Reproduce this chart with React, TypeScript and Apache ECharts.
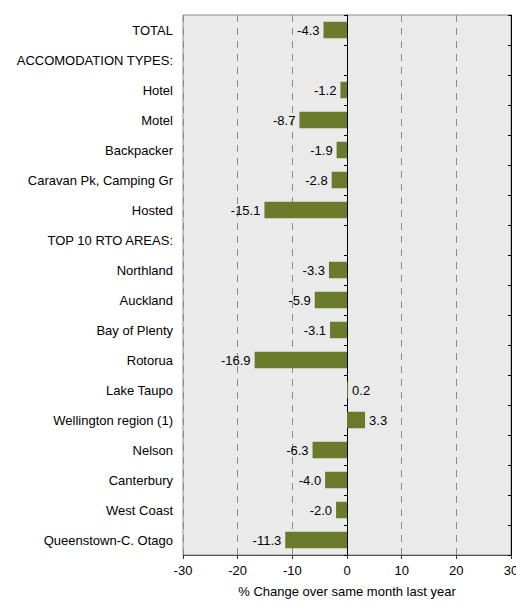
import React, { useEffect, useRef } from "react";
import * as echarts from "echarts";

const categories = [
  "TOTAL",
  "ACCOMODATION TYPES:",
  "Hotel",
  "Motel",
  "Backpacker",
  "Caravan Pk, Camping Gr",
  "Hosted",
  "TOP 10 RTO AREAS:",
  "Northland",
  "Auckland",
  "Bay of Plenty",
  "Rotorua",
  "Lake Taupo",
  "Wellington region (1)",
  "Nelson",
  "Canterbury",
  "West Coast",
  "Queenstown-C. Otago",
];

const values: (number | null)[] = [
  -4.3, null, -1.2, -8.7, -1.9, -2.8, -15.1, null, -3.3, -5.9, -3.1, -16.9, 0.2, 3.3, -6.3, -4.0, -2.0, -11.3,
];

const xTicks = { min: -30, max: 30, interval: 10 };
const xAxisTitle = "% Change over same month last year";

const FONT = "'Liberation Sans', Arial, sans-serif";

export default function App() {
  const ref = useRef<HTMLDivElement>(null);
  useEffect(() => {
    if (!ref.current) return;
    const chart = echarts.init(ref.current, undefined, { renderer: "svg" });
    const data = values.map((v) =>
      v == null
        ? null
        : { value: v, label: { position: v < 0 ? "left" : "right" } }
    );
    const catAxisBase = {
      type: "category",
      data: categories,
      inverse: true,
      gridIndex: 0,
    };
    chart.setOption({
      animation: false,
      textStyle: { fontFamily: FONT },
      grid: {
        left: 183,
        right: 5,
        top: 15,
        bottom: 51,
        outerBoundsMode: "none",
        containLabel: false,
        show: true,
        backgroundColor: "#eaeaea",
        borderColor: "#8c8c8c",
        borderWidth: 1,
      },
      xAxis: {
        type: "value",
        min: xTicks.min,
        max: xTicks.max,
        interval: xTicks.interval,
        name: xAxisTitle,
        nameLocation: "middle",
        nameGap: 30,
        nameTextStyle: { fontSize: 13, color: "#000", fontFamily: FONT },
        axisLine: { show: true, onZero: false, lineStyle: { color: "#555", width: 1 } },
        axisTick: { show: true, length: 4, lineStyle: { color: "#333" } },
        axisLabel: { fontSize: 13, color: "#000", margin: 9, fontFamily: FONT },
        splitLine: {
          show: true,
          lineStyle: { color: "#8c8c8c", type: [7, 6], width: 1 },
        },
      },
      yAxis: [
        {
          ...catAxisBase,
          position: "left",
          axisLine: { show: false, onZero: false },
          axisTick: { show: false },
          axisLabel: { fontSize: 13, color: "#000", margin: 10, fontFamily: FONT },
          splitLine: { show: false },
        },
        {
          ...catAxisBase,
          position: "left",
          axisLine: { show: true, onZero: true, lineStyle: { color: "#000", width: 1 } },
          axisTick: { show: true, inside: false, length: 3, lineStyle: { color: "#000" } },
          axisLabel: { show: false },
          splitLine: { show: false },
        },
        {
          ...catAxisBase,
          position: "right",
          axisLine: { show: true, onZero: true, lineStyle: { color: "#000", width: 1 } },
          axisTick: { show: true, inside: true, length: 3, lineStyle: { color: "#000" } },
          axisLabel: { show: false },
          splitLine: { show: false },
        },
      ],
      series: [
        {
          type: "bar",
          yAxisIndex: 0,
          data,
          barWidth: "55%",
          itemStyle: { color: "#6b7a2b" },
          label: {
            show: true,
            distance: 4,
            fontSize: 13,
            color: "#000",
            fontFamily: FONT,
            formatter: (p: any) => Number(p.value).toFixed(1),
          },
        },
      ],
    });
    return () => chart.dispose();
  }, []);
  return <div ref={ref} style={{ width: 516, height: 606, position: "absolute", left: 0, top: 0 }} />;
}
